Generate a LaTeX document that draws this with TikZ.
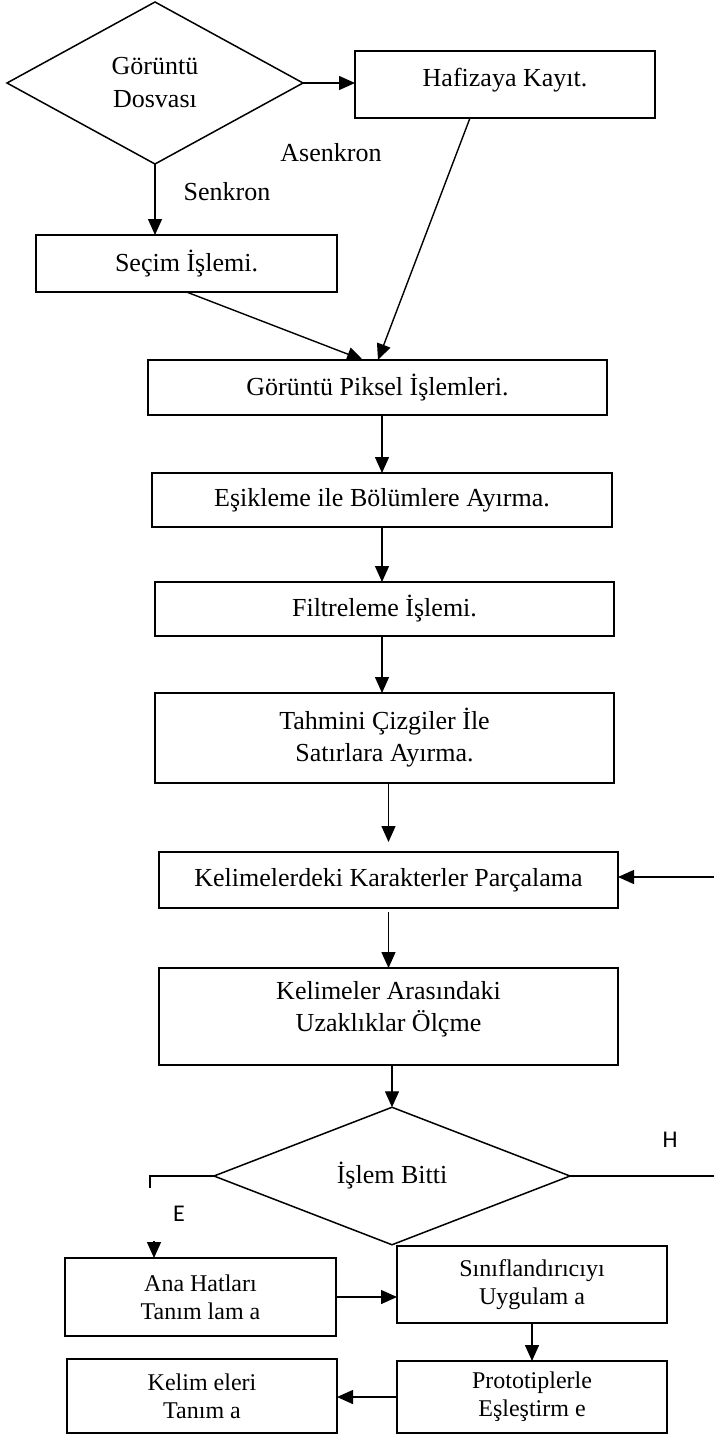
\documentclass[tikz,border=0pt]{standalone}
\usepackage{fontspec}
\setmainfont{Liberation Serif}
\newfontfamily\lblsans{Carlito}
\usetikzlibrary{shapes.geometric,arrows.meta,calc}
\begin{document}
\begin{tikzpicture}[x=1pt,y=-1pt,
  every node/.style={inner sep=0pt, outer sep=0pt},
  box/.style={draw, line width=1.5pt, align=center, font=\fontsize{26pt}{32pt}\selectfont},
  sbox/.style={draw, line width=1.5pt, align=center, font=\fontsize{24pt}{28pt}\selectfont},
  dec/.style={draw, diamond, line width=1.5pt, align=center, font=\fontsize{26pt}{33pt}\selectfont},
  conn/.style={line width=1.4pt, -{Triangle[length=16pt,width=14pt]}},
  plainline/.style={line width=1.4pt},
  lbl/.style={font=\fontsize{26pt}{32pt}\selectfont},
  slbl/.style={font=\lblsans\fontsize{24pt}{28pt}\selectfont},
]
\useasboundingbox (0,0) rectangle (714,1435);

% decisions
\node[dec, minimum width=296pt, minimum height=162pt] (d1) at (155,83) {Görüntü\\Dosvası};
\node[dec, minimum width=356pt, minimum height=101pt] (d2) at (392,1176) {İşlem Bitti};

% boxes
\node[box, minimum width=300pt, minimum height=67pt, text depth=14pt] (haf) at (505,84.5) {Hafizaya Kayıt.};
\node[box, minimum width=301pt, minimum height=57pt] (sec) at (186.5,263.5) {Seçim İşlemi.};
\node[box, minimum width=459pt, minimum height=55pt] (gp) at (377.5,387.5) {Görüntü Piksel İşlemleri.};
\node[box, minimum width=460pt, minimum height=54pt] (esik) at (382,500) {Eşikleme ile Bölümlere Ayırma.};
\node[box, minimum width=459pt, minimum height=54pt] (filt) at (384.5,609) {Filtreleme İşlemi.};
\node[box, minimum width=459pt, minimum height=90pt] (tah) at (384.5,738) {Tahmini Çizgiler İle\\Satırlara Ayırma.};
\node[box, minimum width=459pt, minimum height=56pt] (kar) at (388.5,880) {Kelimelerdeki Karakterler Parçalama};
\node[box, minimum width=459pt, minimum height=97pt] (uzak) at (388.5,1016.5) {\raisebox{7pt}[\height][\depth]{\begin{tabular}{@{}c@{}}Kelimeler Arasındaki\\Uzaklıklar Ölçme\end{tabular}}};
\node[sbox, minimum width=271pt, minimum height=78pt] (ana) at (200.5,1297) {Ana Hatları\\Tanım lam a};
\node[sbox, minimum width=270pt, minimum height=77pt] (sin) at (532,1284.5) {Sınıflandırıcıyı\\Uygulam a};
\node[sbox, minimum width=270pt, minimum height=72pt] (pro) at (532,1397) {Prototiplerle\\Eşleştirm e};
\node[sbox, minimum width=270pt, minimum height=74pt] (kel) at (202,1396) {Kelim eleri\\Tanım a};

% labels
\node[lbl] (lasenk) at (331,153) {Asenkron};
\node[lbl] (lsenk) at (227,192) {Senkron};
\node[slbl] (lh) at (670,1140) {H};
\node[slbl] (le) at (179,1214) {E};

% helper coordinates
\coordinate (gpin1) at (363,360);
\coordinate (gpin2) at (378,360);
\coordinate (hafout) at (470,118);
\coordinate (kartip) at ([yshift=10pt]kar.north);
\coordinate (kin) at (714,877);
\coordinate (hend) at (714,1176);
\coordinate (eL) at (150,1176);
\coordinate (eT) at (150,1188);
\coordinate (anaIn) at (154,1241);

% connectors
\draw[conn] (d1.east) -- (haf.west |- d1.east);
\draw[conn] (d1.south) -- (d1.south |- sec.north);
\draw[conn] (sec.south) -- (gpin1);
\draw[conn] (hafout) -- (gpin2);
\draw[conn] (esik.north |- gp.south) -- (esik.north);
\draw[conn] (esik.south) -- (esik.south |- filt.north);
\draw[conn] (esik.south |- filt.south) -- (esik.south |- tah.north);
\draw[conn] (kartip |- tah.south) -- (kartip);
\draw[conn] (kin) -- (kar.east |- kin);
\draw[conn] ([yshift=-4pt]kar.south) -- (uzak.north);
\draw[conn] (d2.north |- uzak.south) -- (d2.north);
\draw[plainline] (d2.east) -- (hend);
\draw[plainline] (d2.west) -- (eL) -- (eT);
\draw[conn] (anaIn) -- (anaIn |- ana.north);
\draw[conn] (ana.east) -- (ana.east -| sin.west);
\draw[conn] (sin.south) -- (pro.north);
\draw[conn] (pro.west) -- (pro.west -| kel.east);
\end{tikzpicture}
\end{document}
